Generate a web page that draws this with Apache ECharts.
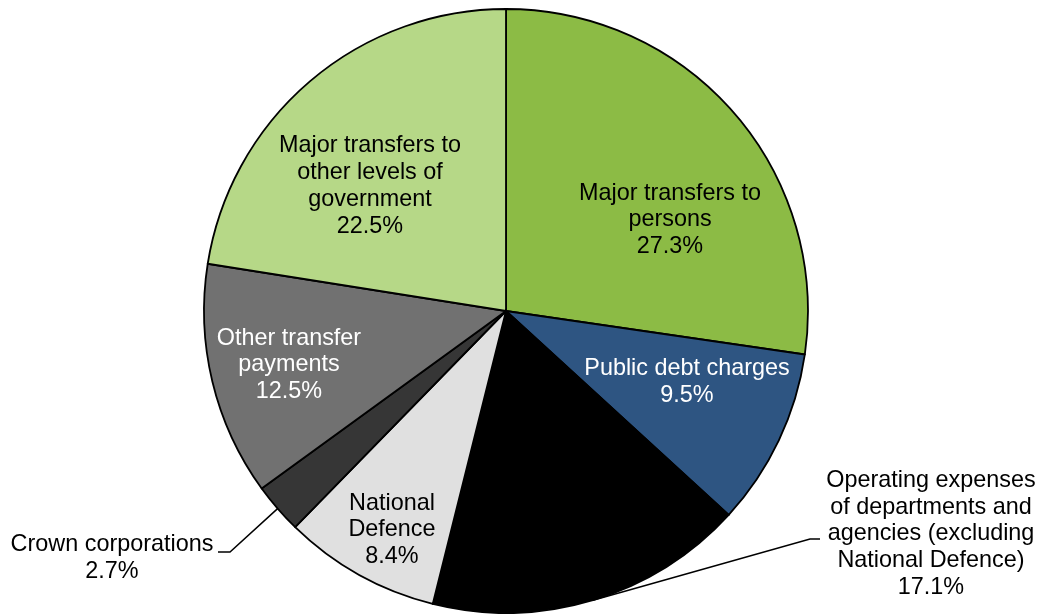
<!DOCTYPE html>
<html>
<head>
<meta charset="utf-8">
<script src="https://cdn.jsdelivr.net/npm/echarts@6/dist/echarts.min.js"></script>
<style>
  html, body { margin: 0; padding: 0; background: #ffffff; }
  #chart { width: 1042px; height: 614px; }
</style>
</head>
<body>
<div id="chart"></div>
<script>
// Federal expenses by category, share of total (%)
const categories = [
  'Major transfers to\npersons',
  'Public debt charges',
  'Operating expenses\nof departments and\nagencies (excluding\nNational Defence)',
  'National\nDefence',
  'Crown corporations',
  'Other transfer\npayments',
  'Major transfers to\nother levels of\ngovernment'
];
const shares = [27.3, 9.5, 17.1, 8.4, 2.7, 12.5, 22.5];

// Slice fills and label colours, in slice order
const fills = ['#8cbb45', '#2e5582', '#000000', '#e0e0e0', '#363636', '#717171', '#b6d887'];
const textColors = ['#000000', '#ffffff', '#000000', '#000000', '#000000', '#ffffff', '#000000'];
const outsideLabel = [false, false, true, false, true, false, false];

// Label block centres (px) and leader elbows for the outside labels
const labelPos = [
  [670, 220], [687, 382], [931, 534], [392, 530], [112, 558], [289, 365], [370, 186]
];
const leaderElbow = {
  2: [[810, 539], [820, 539]],
  4: [[230, 552], [218, 552]]
};

const chart = echarts.init(document.getElementById('chart'), null, { renderer: 'canvas' });

const data = shares.map((v, i) => ({
  name: categories[i],
  value: v,
  itemStyle: { color: fills[i] },
  label: {
    position: outsideLabel[i] ? 'outside' : 'inside',
    color: textColors[i]
  },
  labelLine: { show: outsideLabel[i] }
}));

chart.setOption({
  animation: false,
  backgroundColor: '#ffffff',
  series: [{
    type: 'pie',
    center: [506, 311],
    radius: [0, 302],
    startAngle: 90,
    clockwise: true,
    avoidLabelOverlap: false,
    data: data,
    itemStyle: { borderColor: '#000000', borderWidth: 1.8 },
    label: {
      show: true,
      fontFamily: 'Liberation Sans, Arial, sans-serif',
      fontSize: 23.4,
      lineHeight: 26.8,
      align: 'center',
      formatter: p => p.name + '\n' + p.value.toFixed(1) + '%'
    },
    labelLine: {
      length: 20,
      length2: 10,
      lineStyle: { color: '#000000', width: 1.5 }
    },
    labelLayout: function (params) {
      const i = params.dataIndex;
      const pos = labelPos[i];
      const out = {
        x: pos[0],
        y: pos[1],
        align: 'center',
        verticalAlign: 'middle'
      };
      if (leaderElbow[i] && params.labelLinePoints) {
        const start = params.labelLinePoints[0];
        out.labelLinePoints = [start, leaderElbow[i][0], leaderElbow[i][1]];
      }
      return out;
    },
    emphasis: { disabled: true }
  }]
});
</script>
</body>
</html>
